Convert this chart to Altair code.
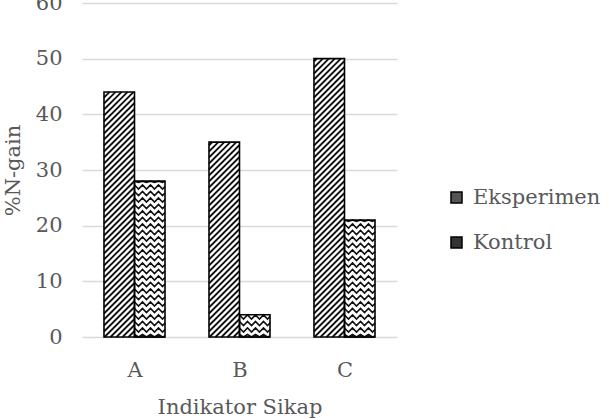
import json
import altair as alt
import pandas as pd

# ---- data ----
categories = ["A", "B", "C"]
series_names = ["Eksperimen", "Kontrol"]
eksperimen = [44, 35, 50]
kontrol = [28, 4, 21]
y_ticks = [0, 10, 20, 30, 40, 50, 60]
x_title = "Indikator Sikap"
y_title = "%N-gain"

rows = []
for i, c in enumerate(categories):
    rows.append({"cat": c, "pos": i + 1, "series": series_names[0], "value": eksperimen[i]})
    rows.append({"cat": c, "pos": i + 1, "series": series_names[1], "value": kontrol[i]})
df = pd.DataFrame(rows)

# ---- layout / style ----
W, H = 315, 334
PXX = W / 3.0          # pixels per x unit
PXY = H / 60.0         # pixels per y unit
BARPX = 30.5           # bar width in px
BAR = BARPX / PXX
FONT = "DejaVu Serif"
FS = 21
GREY = "#595959"

x_scale = alt.Scale(domain=[0.5, 3.5], nice=False, zero=False)
y_scale = alt.Scale(domain=[0, 60], nice=False)
x_axis = alt.Axis(values=[1, 2, 3], labelExpr="%s[datum.value - 1]" % json.dumps(categories),
                  grid=False, labelPadding=22, titlePadding=16, title=x_title)
y_axis = alt.Axis(values=y_ticks, grid=True, labelPadding=20, titlePadding=12, title=y_title)


def X(field):
    return alt.X(field, type="quantitative", scale=x_scale, axis=x_axis, title=x_title)


def Y(field):
    return alt.Y(field, type="quantitative", scale=y_scale, axis=y_axis, title=y_title)


base = alt.Chart(df).transform_calculate(
    x0="datum.pos - (datum.series == '%s' ? %f : 0)" % (series_names[0], BAR),
    x1="datum.x0 + %f" % BAR,
    zero="0",
)

bars_fill = base.mark_bar(fill="white", strokeWidth=0).encode(
    x=X("x0"), x2="x1:Q", y=Y("value"), y2="zero:Q"
)

# diagonal hatch for Eksperimen
S = 6.0
hatch_e = base.transform_filter("datum.series == '%s'" % series_names[0]).transform_calculate(
    hp="datum.value * %f" % PXY,
    ks="sequence(%f, datum.hp, %f)" % (-BARPX, S),
).transform_flatten(["ks"]).transform_calculate(
    xs="max(0, -datum.ks)",
    xe="min(%f, datum.hp - datum.ks)" % BARPX,
).transform_filter("datum.xe > datum.xs").transform_calculate(
    lx1="datum.x0 + datum.xs / %f" % PXX,
    ly1="(datum.xs + datum.ks) / %f" % PXY,
    lx2="datum.x0 + datum.xe / %f" % PXX,
    ly2="(datum.xe + datum.ks) / %f" % PXY,
).mark_rule(color="#111111", strokeWidth=1.8).encode(
    x=X("lx1"), y=Y("ly1"), x2="lx2:Q", y2="ly2:Q"
)

# zig-zag hatch for Kontrol
ZP = 8.0   # zigzag period (px)
ZR = 6.5   # row spacing (px)
hatch_k = base.transform_filter("datum.series == '%s'" % series_names[1]).transform_calculate(
    hp="datum.value * %f" % PXY,
    rws="sequence(-8, datum.hp, %f)" % ZR,
).transform_flatten(["rws"]).transform_calculate(
    ks="sequence(0, 9)",
).transform_flatten(["ks"]).transform_calculate(
    xp="min(datum.ks * %f, %f)" % (ZP / 2, BARPX),
).transform_calculate(
    yp="min(datum.hp, max(0, datum.rws + abs((datum.xp % " + str(ZP) + ") - " + str(ZP / 2) + ")))",
    zx="datum.x0 + datum.xp / " + str(PXX),
).transform_calculate(
    zy="datum.yp / " + str(PXY),
    key="datum.cat + '_' + datum.rws",
).mark_line(color="#111111", strokeWidth=1.6).encode(
    x=X("zx"), y=Y("zy"), detail="key:N", order="ks:Q"
)

outline = base.mark_bar(fillOpacity=0, stroke="black", strokeWidth=1.6).encode(
    x=X("x0"), x2="x1:Q", y=Y("value"), y2="zero:Q"
)

legend_layer = base.mark_square(size=121, opacity=0).encode(
    x=X("x0"), y=Y("value"),
    color=alt.Color("series:N",
                    scale=alt.Scale(domain=series_names, range=["#555555", "#333333"]),
                    legend=alt.Legend(orient="none", legendX=364, legendY=184, title=None,
                                      symbolType="square", symbolSize=121,
                                      symbolStrokeColor="black", symbolStrokeWidth=1.5,
                                      symbolOpacity=1, rowPadding=23, labelOffset=6,
                                      labelFont=FONT, labelFontSize=FS, labelColor=GREY)),
)

chart = alt.layer(bars_fill, hatch_e, hatch_k, outline, legend_layer).properties(
    width=W, height=H,
    autosize=alt.AutoSizeParams(type="none"),
    padding={"left": 82, "top": 3, "right": 608 - 82 - W, "bottom": 418 - 3 - H},
).configure_view(stroke=None).configure_axis(
    labelFont=FONT, titleFont=FONT, labelFontSize=FS, titleFontSize=FS,
    labelColor=GREY, titleColor=GREY, titleFontWeight="normal",
    ticks=False, domain=False, gridColor="#d9d9d9", gridWidth=1.3,
)

chart.save("out.html", embed_options={"renderer": "svg", "actions": False})
